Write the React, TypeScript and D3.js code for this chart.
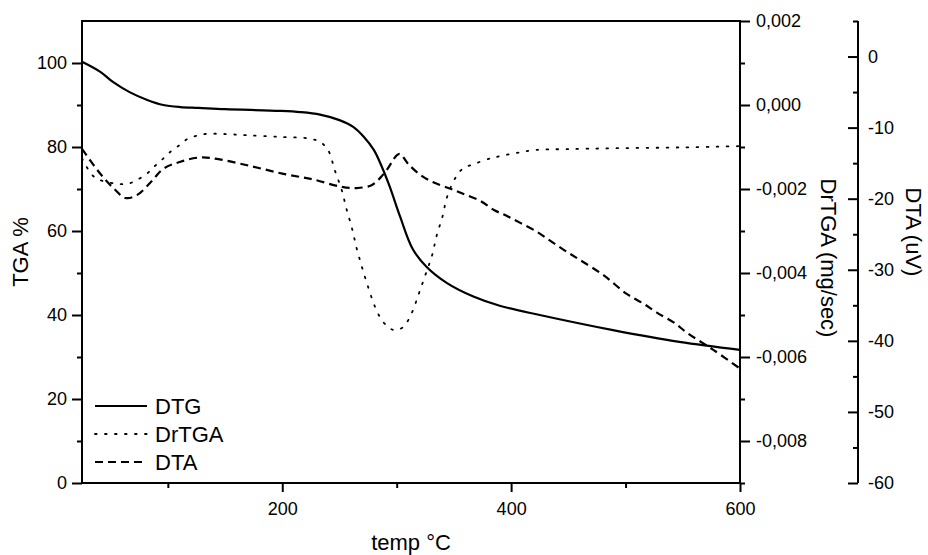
import React, { useEffect, useRef } from 'react';
import * as d3 from 'd3';

// TGA (solid, left axis, %)
const tgaTemp = [25, 41, 52, 67, 82, 96, 111, 127, 150, 198, 216, 233, 250, 262, 271, 280, 287, 294, 303, 314, 326, 344, 367, 390, 425, 489, 547, 600];
const tgaValue = [100.3, 97.9, 95.5, 93.0, 91.2, 90.0, 89.5, 89.3, 89.0, 88.6, 88.3, 87.7, 86.4, 84.8, 82.5, 79.3, 75.3, 70.5, 63.4, 55.7, 51.5, 47.6, 44.4, 42.2, 40.0, 36.4, 33.6, 31.7];

// DrTGA (dotted, first right axis, mg/sec)
const drtgaTemp = [25, 34, 41, 57, 66, 74, 82, 88, 95, 102, 110, 117, 124, 133, 149, 169, 198, 224, 233, 240, 246, 252, 256, 261, 265, 270, 275, 281, 287, 294, 299, 306, 313, 319, 325, 331, 335, 340, 344, 351, 358, 367, 382, 390, 405, 422, 449, 489, 548, 600];
const drtgaValue = [-0.00127, -0.00167, -0.00179, -0.00188, -0.00187, -0.00177, -0.00163, -0.00147, -0.0013, -0.00112, -0.00096, -0.00081, -0.00074, -0.00069, -0.00069, -0.00072, -0.00076, -0.0008, -0.00088, -0.00107, -0.00156, -0.00203, -0.00246, -0.00294, -0.00341, -0.00389, -0.00433, -0.0048, -0.00512, -0.00532, -0.00536, -0.00528, -0.00496, -0.00452, -0.00405, -0.00357, -0.0031, -0.00266, -0.00219, -0.00175, -0.00151, -0.00141, -0.00127, -0.00122, -0.00114, -0.00107, -0.00105, -0.00103, -0.00101, -0.00098];

// DTA (dashed, second right axis, uV)
const dtaTemp = [25, 41, 53, 63, 73, 85, 96, 111, 128, 143, 172, 201, 227, 251, 265, 278, 286, 292, 300, 303, 310, 321, 332, 347, 358, 373, 385, 396, 408, 423, 434, 447, 460, 481, 501, 516, 527, 542, 554, 577, 600];
const dtaValue = [-13.0, -16.5, -18.6, -19.9, -19.5, -17.7, -15.8, -14.8, -14.2, -14.4, -15.4, -16.5, -17.3, -18.3, -18.5, -18.1, -17.0, -15.8, -13.9, -13.7, -15.1, -16.7, -17.7, -18.6, -19.3, -20.3, -21.6, -22.4, -23.4, -24.7, -25.9, -27.3, -28.6, -30.8, -33.4, -34.8, -36.0, -37.4, -38.9, -41.3, -43.9];

const xMajorTicks = [200, 400, 600];
const xMinorTicks = [100, 300, 500];
const tgaMajorTicks = [0, 20, 40, 60, 80, 100];
const tgaMinorTicks = [10, 30, 50, 70, 90];
const drtgaMajorTicks = [-0.008, -0.006, -0.004, -0.002, 0, 0.002];
const drtgaMinorTicks = [-0.009, -0.007, -0.005, -0.003, -0.001, 0.001];
const dtaMajorTicks = [-60, -50, -40, -30, -20, -10, 0];
const dtaMinorTicks = [-55, -45, -35, -25, -15, -5, 5];

const legendLabels = ['DTG', 'DrTGA', 'DTA'];
const dashStyles = ['none', '1.6,8.4', '8,5'];

const W = 928;
const H = 555;
const plotLeft = 82;
const plotRight = 740;
const plotTop = 21;
const plotBottom = 483;
const dtaAxisX = 858;
const FONT = '"Liberation Sans", Arial, sans-serif';

const locale = d3.formatLocale({
  decimal: ',',
  thousands: '.',
  grouping: [3],
  currency: ['', ''],
  minus: '-',
});

export default function App() {
  const svgRef = useRef<SVGSVGElement>(null);

  useEffect(() => {
    if (!svgRef.current) return;
    const svg = d3.select(svgRef.current);
    svg.selectAll('*').remove();

    const x = d3.scaleLinear().domain([25, 600]).range([plotLeft, plotRight]);
    const yTga = d3.scaleLinear().domain([0, 110]).range([plotBottom, plotTop]);
    const yDr = d3.scaleLinear().domain([-0.009, 0.002]).range([plotBottom, plotTop]);
    const yDta = d3.scaleLinear().domain([-60, 5]).range([plotBottom, plotTop]);

    const styleAxis = (g: d3.Selection<SVGGElement, unknown, null, undefined>) => {
      g.attr('font-size', 18).attr('font-family', FONT);
      g.select('.domain').remove();
      g.selectAll('.tick line').attr('stroke', '#000').attr('stroke-width', 2);
      g.selectAll('.tick text').attr('fill', '#000');
    };

    // --- AXES ---
    const xMajor = svg.append('g').attr('transform', `translate(0,${plotBottom})`)
      .call(d3.axisBottom(x).tickValues(xMajorTicks).tickSize(9).tickPadding(10).tickFormat(d3.format('d')));
    styleAxis(xMajor);
    const xMinor = svg.append('g').attr('transform', `translate(0,${plotBottom})`)
      .call(d3.axisBottom(x).tickValues(xMinorTicks).tickSize(5).tickFormat(() => ''));
    styleAxis(xMinor);

    const tMajor = svg.append('g').attr('transform', `translate(${plotLeft},0)`)
      .call(d3.axisLeft(yTga).tickValues(tgaMajorTicks).tickSize(10).tickPadding(5).tickFormat(d3.format('d')));
    styleAxis(tMajor);
    const tMinor = svg.append('g').attr('transform', `translate(${plotLeft},0)`)
      .call(d3.axisLeft(yTga).tickValues(tgaMinorTicks).tickSize(5).tickFormat(() => ''));
    styleAxis(tMinor);

    const dMajor = svg.append('g').attr('transform', `translate(${plotRight},0)`)
      .call(d3.axisRight(yDr).tickValues(drtgaMajorTicks).tickSize(10).tickPadding(6).tickFormat(locale.format('.3f')));
    styleAxis(dMajor);
    const dMinor = svg.append('g').attr('transform', `translate(${plotRight},0)`)
      .call(d3.axisRight(yDr).tickValues(drtgaMinorTicks).tickSize(5).tickFormat(() => ''));
    styleAxis(dMinor);

    const aMajor = svg.append('g').attr('transform', `translate(${dtaAxisX},0)`)
      .call(d3.axisRight(yDta).tickValues(dtaMajorTicks).tickSize(-10).tickPadding(10).tickFormat(locale.format('d')));
    styleAxis(aMajor);
    const aMinor = svg.append('g').attr('transform', `translate(${dtaAxisX},0)`)
      .call(d3.axisRight(yDta).tickValues(dtaMinorTicks).tickSize(-5).tickFormat(() => ''));
    styleAxis(aMinor);

    // frame + axis lines
    const frame = svg.append('g').attr('stroke', '#000').attr('stroke-width', 2).attr('fill', 'none');
    frame.append('path')
      .attr('d', `M${plotLeft},${plotBottom}V${plotTop}H${plotRight}V${plotBottom}Z`)
      .attr('stroke-linecap', 'square');
    frame.append('line')
      .attr('x1', dtaAxisX).attr('x2', dtaAxisX)
      .attr('y1', plotTop).attr('y2', plotBottom);

    // --- CURVES ---
    const series = [
      { t: tgaTemp, v: tgaValue, y: yTga, width: 2.2 },
      { t: drtgaTemp, v: drtgaValue, y: yDr, width: 1.8 },
      { t: dtaTemp, v: dtaValue, y: yDta, width: 2.2 },
    ];
    series.forEach((s, i) => {
      const line = d3.line<number>()
        .x((_, k) => x(s.t[k]))
        .y((d) => s.y(d))
        .curve(d3.curveCatmullRom.alpha(0.5));
      svg.append('path')
        .attr('d', line(s.v))
        .attr('fill', 'none')
        .attr('stroke', '#000')
        .attr('stroke-width', s.width)
        .attr('stroke-dasharray', dashStyles[i])
        .attr('stroke-linecap', i === 1 ? 'round' : 'butt');
    });

    // --- LEGEND ---
    const legend = svg.append('g').attr('font-family', FONT).attr('font-size', 22);
    legendLabels.forEach((label, i) => {
      const cy = 406 + i * 28;
      legend.append('line')
        .attr('x1', 95).attr('x2', 147)
        .attr('y1', cy).attr('y2', cy)
        .attr('stroke', '#000')
        .attr('stroke-width', series[i].width)
        .attr('stroke-dasharray', dashStyles[i])
        .attr('stroke-linecap', i === 1 ? 'round' : 'butt');
      legend.append('text')
        .attr('x', 155).attr('y', cy + 8)
        .text(label);
    });

    // --- TITLES ---
    const titles = svg.append('g').attr('font-family', FONT).attr('font-size', 22).attr('fill', '#000');
    titles.append('text')
      .attr('x', (plotLeft + plotRight) / 2).attr('y', 550)
      .attr('text-anchor', 'middle')
      .text('temp °C');
    titles.append('text')
      .attr('transform', `translate(28,${(plotTop + plotBottom) / 2}) rotate(-90)`)
      .attr('text-anchor', 'middle')
      .text('TGA %');
    titles.append('text')
      .attr('transform', `translate(821,258) rotate(90)`)
      .attr('text-anchor', 'middle')
      .text('DrTGA (mg/sec)');
    titles.append('text')
      .attr('transform', `translate(906,232) rotate(90)`)
      .attr('text-anchor', 'middle')
      .text('DTA (uV)');
  }, []);

  return (
    <svg
      ref={svgRef}
      width={W}
      height={H}
      style={{ position: 'fixed', left: 0, top: 0, background: '#fff', display: 'block' }}
    />
  );
}
